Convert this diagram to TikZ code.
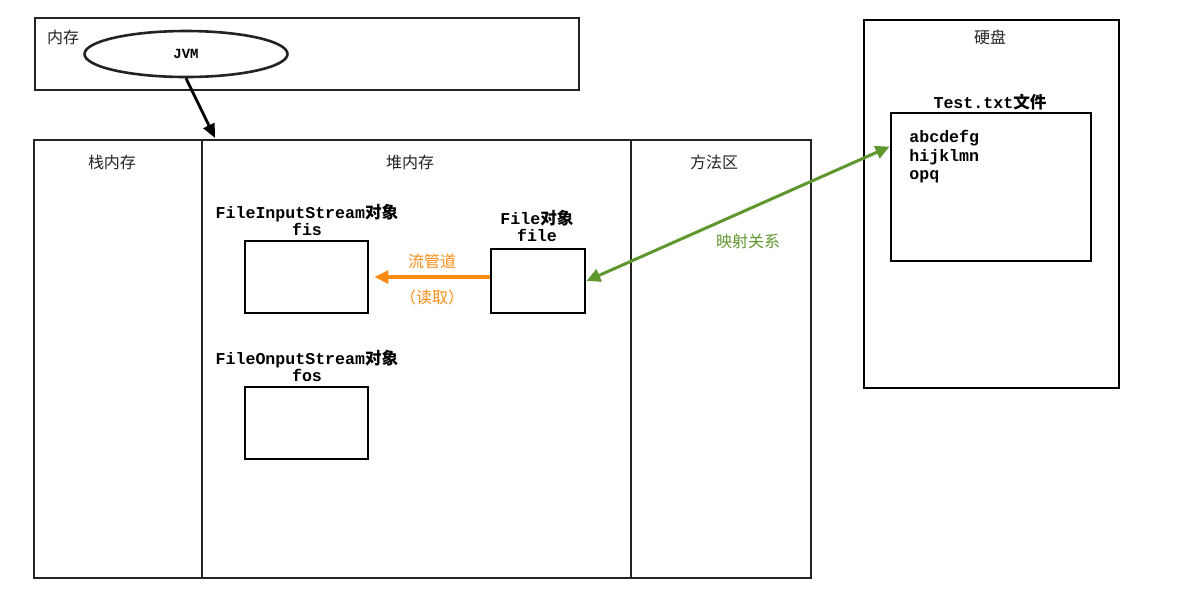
\documentclass[tikz,border=0pt]{standalone}
\usepackage{fontspec}
\setmonofont{Liberation Mono}
\newfontfamily\cjk{Noto Sans CJK SC}
\usepackage{tikz}
\usetikzlibrary{
  shapes.geometric,
  arrows.meta,
  positioning
}
\definecolor{LineGray}{RGB}{35, 35, 35}
\definecolor{PipeOrange}{RGB}{250, 140, 20}
\definecolor{MapGreen}{RGB}{95, 150, 45}
\newcommand{\cn}[1]{{\cjk #1}}
\tikzset{
    area/.style={draw=LineGray, line width=1.3pt, inner sep=0pt},
    obj/.style={draw=black, line width=1.4pt, inner sep=0pt},
    zh/.style={inner sep=0pt, font=\cjk\fontsize{8}{10}\selectfont, text=LineGray},
    code/.style={inner sep=0pt, font=\ttfamily\bfseries\fontsize{8.3}{8.6}\selectfont, align=center},
}

\begin{document}
\begin{tikzpicture}[x=0.5pt, y=-0.5pt]
    \useasboundingbox (0,0) rectangle (1180,602);

    % memory and JVM
    \node[area, minimum width=272pt, minimum height=36pt] (mem) at (307,54) {};
    \node[zh] (memlabel) at (63,37) {内存};
    \node[ellipse, draw=LineGray, line width=1.3pt, minimum width=101.5pt, minimum height=23pt, inner sep=0pt,
          font=\ttfamily\bfseries\fontsize{7}{8}\selectfont] (jvm) at (186,54) {JVM};

    % runtime areas
    \node[area, minimum width=84pt, minimum height=219pt] (stack) at (118,359) {};
    \node[area, minimum width=214.5pt, minimum height=219pt] (heap) at (416.5,359) {};
    \node[area, minimum width=90pt, minimum height=219pt] (method) at (721,359) {};
    \node[zh] (stacklabel) at (112,162) {栈内存};
    \node[zh] (heaplabel) at (410,162) {堆内存};
    \node[zh] (methodlabel) at (714,162) {方法区};
    \coordinate (jvmhit) at (215,138);
    \draw[line width=1.4pt, -{Triangle[length=7pt, width=6pt]}] (jvm.south) -- (jvmhit);

    % objects in the heap
    \node[obj, minimum width=61.5pt, minimum height=36pt] (fis) at (306.5,277) {};
    \node[code] (fislabel) at (307,220) {FileInputStream\cn{对象}\\fis};
    \node[obj, minimum width=61.5pt, minimum height=36pt] (fos) at (306.5,423) {};
    \node[code] (foslabel) at (307,366) {FileOnputStream\cn{对象}\\fos};
    \node[obj, minimum width=47pt, minimum height=32pt] (file) at (538,281) {};
    \node[code] (filelabel) at (537,226) {File\cn{对象}\\file};

    \draw[PipeOrange, line width=1.6pt, shorten >=2.5pt, -{Triangle[length=7pt, width=6.5pt]}] (file.west |- 0,277) -- (fis.east |- 0,277);
    \node[zh, text=PipeOrange] (pipe) at (432,261) {流管道};
    \node[zh, text=PipeOrange] (read) at (432,297) {（读取）};

    % hard disk
    \node[obj, minimum width=127.5pt, minimum height=184pt] (disk) at (991.5,204) {};
    \node[zh] (disklabel) at (990,37) {硬盘};
    \node[obj, minimum width=100pt, minimum height=74pt] (txt) at (991,187) {};
    \node[code] (txtlabel) at (990,102) {Test.txt\cn{文件}};
    \node[code, align=left, anchor=north west, font=\ttfamily\bfseries\fontsize{8.3}{9.3}\selectfont] (content) at (909,130) {abcdefg\\hijklmn\\opq};

    \draw[MapGreen, line width=1.5pt, {Triangle[length=7pt, width=6.5pt]}-{Triangle[length=7pt, width=6.5pt]}]
        (file.east) -- ([yshift=-17.5pt]txt.north west);
    \node[zh, text=MapGreen] (map) at (748,241) {映射关系};
\end{tikzpicture}
\end{document}
